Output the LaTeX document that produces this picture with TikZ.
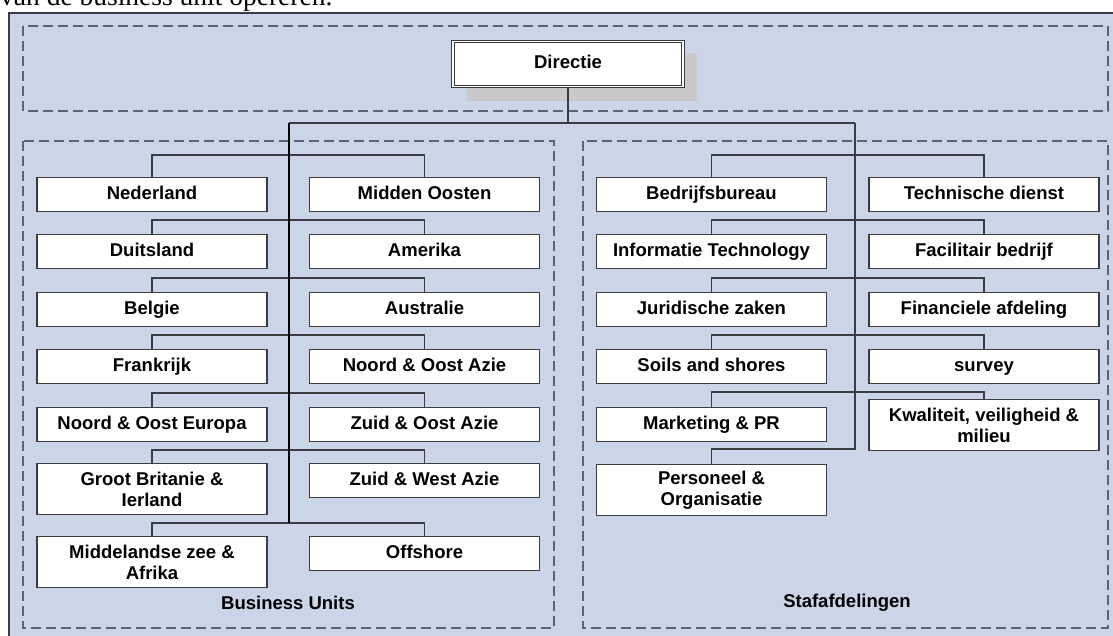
\documentclass[tikz,border=0pt]{standalone}
\usepackage{fontspec}
\setmainfont{Liberation Sans}
\newfontfamily\bodyfont{Liberation Serif}
\usetikzlibrary{calc}

\definecolor{panelblue}{RGB}{202,213,232}
\definecolor{dashgray}{RGB}{92,98,110}
\definecolor{linegray}{RGB}{58,60,66}
\definecolor{shadowgray}{RGB}{201,201,201}

\tikzset{
  unit/.style={draw=linegray, fill=white, line width=1.3pt, minimum width=230pt,
    minimum height=34pt, inner sep=2pt, align=center, anchor=north,
    text height=13.5pt, text depth=4pt,
    font=\bfseries\fontsize{18.5}{21.5}\selectfont},
  unit2/.style={unit, minimum height=51pt, text height={}, text depth={}},
  link/.style={draw=linegray, line width=1.3pt},
  trunk/.style={draw=black, line width=2pt},
  region/.style={draw=dashgray, line width=1.5pt, dash pattern=on 10pt off 5pt},
  caption/.style={font=\bfseries\fontsize{18.5}{21.5}\selectfont},
}

\begin{document}
\begin{tikzpicture}[x=1pt, y=1pt]
\useasboundingbox (0,0) rectangle (1113,-635);
\node[anchor=base west, inner sep=0, font=\bodyfont\fontsize{27.5}{30}\selectfont] (intro) at (0,-5) {van de business unit opereren.};
% panels
\filldraw[fill=panelblue, draw=linegray, line width=1.5pt] (9,-13) rectangle (1130,-650);
\draw[region] (23,-26) rectangle (1108,-111);
\draw[region] (23,-141) rectangle (554,-628);
\draw[region] (583,-141) rectangle (1108,-628);
% directie
\coordinate (shadowA) at (467,-53);
\coordinate (shadowB) at (697,-101);
\fill[shadowgray] (shadowA) rectangle (shadowB);
\node[unit, minimum height=45pt, line width=0.9pt, double=white, double distance=1.6pt] (dir) at (568,-41) {Directie};
% business units
\node[unit] (ned) at (152,-177) {Nederland};
\node[unit] (mo) at (424.5,-177) {Midden Oosten};
\node[unit] (dui) at (152,-234) {Duitsland};
\node[unit] (ame) at (424.5,-234) {Amerika};
\node[unit] (bel) at (152,-292) {Belgie};
\node[unit] (aus) at (424.5,-292) {Australie};
\node[unit] (fra) at (152,-349) {Frankrijk};
\node[unit] (noa) at (424.5,-349) {Noord \& Oost Azie};
\node[unit] (noe) at (152,-407) {Noord \& Oost Europa};
\node[unit] (zoa) at (424.5,-407) {Zuid \& Oost Azie};
\node[unit2] (gbi) at (152,-463) {Groot Britanie \&\\Ierland};
\node[unit] (zwa) at (424.5,-463) {Zuid \& West Azie};
\node[unit2] (mza) at (152,-536) {Middelandse zee \&\\Afrika};
\node[unit] (off) at (424.5,-536) {Offshore};
\node[caption] (buLabel) at (288,-603) {Business Units};
% stafafdelingen
\node[unit] (bed) at (711.5,-177) {Bedrijfsbureau};
\node[unit] (tec) at (984,-177) {Technische dienst};
\node[unit] (inf) at (711.5,-234) {Informatie Technology};
\node[unit] (fac) at (984,-234) {Facilitair bedrijf};
\node[unit] (jur) at (711.5,-292) {Juridische zaken};
\node[unit] (fin) at (984,-292) {Financiele afdeling};
\node[unit] (soi) at (711.5,-349) {Soils and shores};
\node[unit] (sur) at (984,-349) {survey};
\node[unit] (mar) at (711.5,-407) {Marketing \& PR};
\node[unit2] (kwa) at (984,-399) {Kwaliteit, veiligheid \&\\milieu};
\node[unit2] (pers) at (711.5,-464) {Personeel \&\\Organisatie};
\node[caption] (sfLabel) at (847,-603) {Stafafdelingen};
% bars
\draw[link] (ned.north) -- ++(0,22) -| (mo.north);
\draw[link] (dui.north) -- ++(0,14) -| (ame.north);
\draw[link] (bel.north) -- ++(0,14) -| (aus.north);
\draw[link] (fra.north) -- ++(0,14) -| (noa.north);
\draw[link] (noe.north) -- ++(0,14) -| (zoa.north);
\draw[link] (gbi.north) -- ++(0,13) -| (zwa.north);
\draw[link] (mza.north) -- ++(0,13) -| (off.north);
\draw[link] (bed.north) -- ++(0,22) -| (tec.north);
\draw[link] (inf.north) -- ++(0,14) -| (fac.north);
\draw[link] (jur.north) -- ++(0,14) -| (fin.north);
\draw[link] (soi.north) -- ++(0,14) -| (sur.north);
\draw[link] (mar.north) -- ++(0,15) -| (kwa.north);
% trunks
\coordinate (fork) at (568,-123);
\coordinate (buTop) at (289,-123);
\coordinate (sfTop) at (855,-123);
\coordinate (buEnd) at (289,-523);
\coordinate (sfEnd) at (855,-449);
\draw[link] (dir.south) -- (fork);
\draw[link] (buTop) -- (sfTop);
\draw[link] (sfTop) -- (sfEnd) -| (pers.north);
\draw[trunk] (buTop) -- (buEnd);
\end{tikzpicture}
\end{document}
